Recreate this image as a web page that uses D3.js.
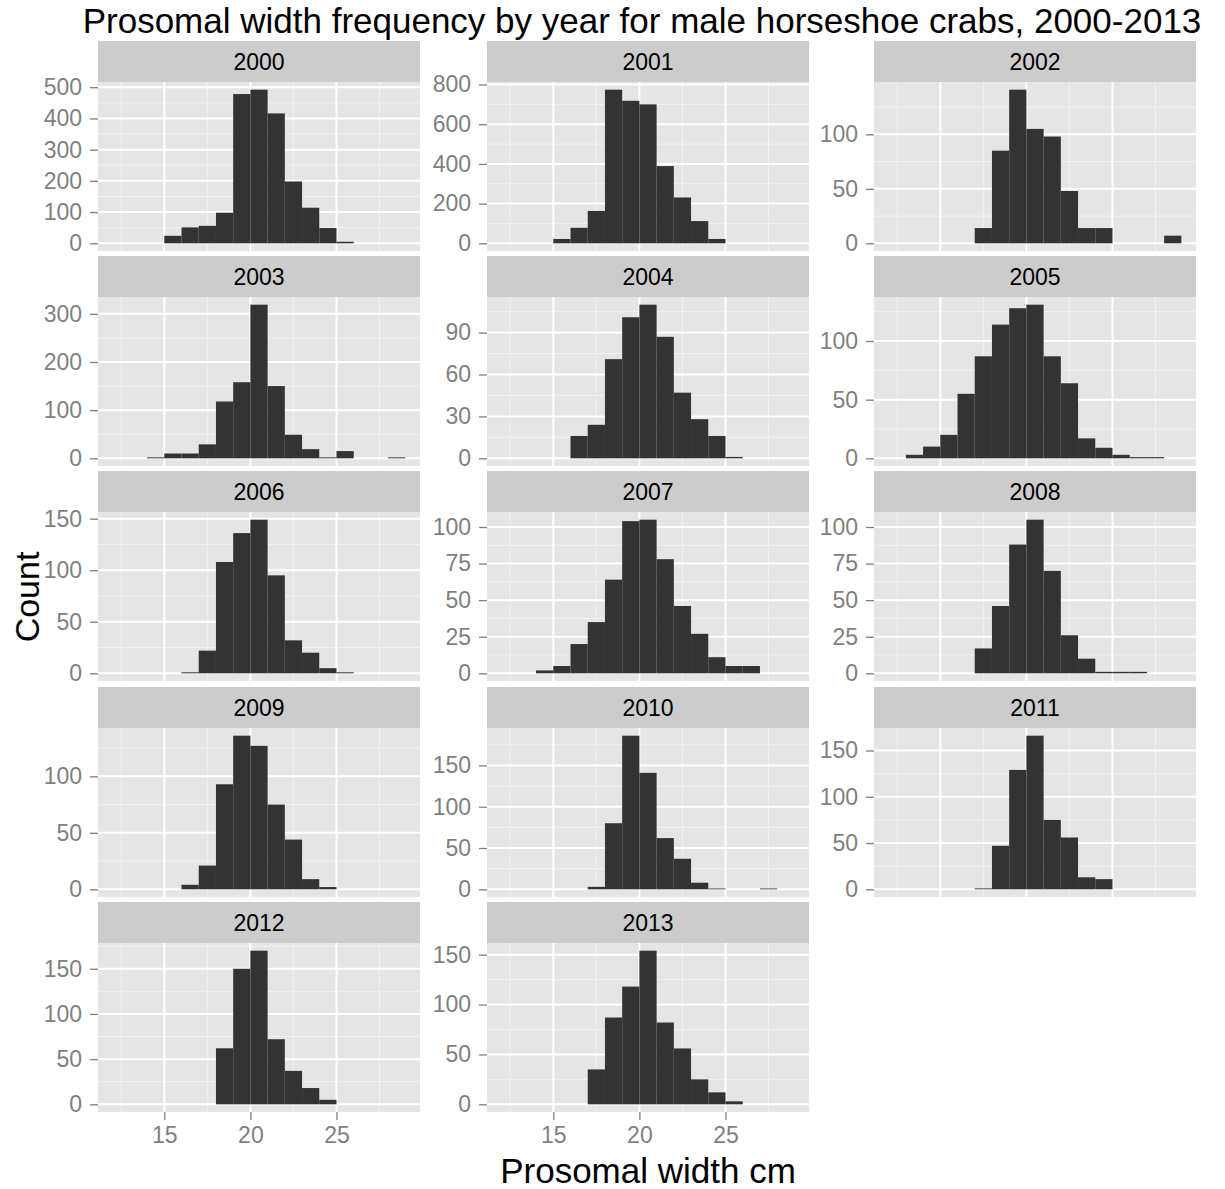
<!DOCTYPE html>
<html>
<head>
<meta charset="utf-8">
<script src="https://cdn.jsdelivr.net/npm/d3@7"></script>
<style>
  body { margin: 0; background: #ffffff; }
  text { font-family: "Liberation Sans", Arial, sans-serif; }
</style>
</head>
<body>
<div id="chart"></div>
<script>
// left edge of each 1 cm bin
var binStarts = [12, 13, 14, 15, 16, 17, 18, 19, 20, 21, 22, 23, 24, 25, 26, 27, 28];

var years = ["2000", "2001", "2002", "2003", "2004", "2005", "2006",
             "2007", "2008", "2009", "2010", "2011", "2012", "2013"];

// counts per bin
var counts2000 = [0, 0, 0, 24, 51, 56, 98, 478, 492, 416, 198, 114, 49, 5, 0, 0, 0];
var counts2001 = [0, 0, 0, 22, 78, 163, 774, 718, 700, 389, 231, 112, 22, 0, 0, 0, 0];
var counts2002 = [0, 0, 0, 0, 0, 14, 85, 141, 105, 98, 48, 14, 14, 0, 0, 0, 7];
var counts2003 = [0, 0, 2, 10, 10, 29, 118, 158, 319, 150, 49, 19, 2, 15, 0, 0, 2];
var counts2004 = [0, 0, 0, 0, 16, 24, 71, 101, 110, 87, 47, 28, 16, 1, 0, 0, 0];
var counts2005 = [0, 3, 10, 20, 55, 87, 114, 128, 131, 87, 64, 17, 9, 3, 1, 1, 0];
var counts2006 = [0, 0, 0, 0, 1, 22, 108, 136, 149, 95, 32, 20, 5, 1, 0, 0, 0];
var counts2007 = [0, 0, 2, 5, 20, 35, 64, 104, 105, 78, 46, 27, 11, 5, 5, 0, 0];
var counts2008 = [0, 0, 0, 0, 0, 17, 46, 88, 105, 70, 26, 10, 1, 1, 1, 0, 0];
var counts2009 = [0, 0, 0, 0, 4, 21, 93, 136, 127, 75, 44, 9, 2, 0, 0, 0, 0];
var counts2010 = [0, 0, 0, 0, 0, 3, 80, 186, 141, 62, 37, 8, 1, 0, 0, 1, 0];
var counts2011 = [0, 0, 0, 0, 0, 1, 47, 129, 166, 75, 56, 13, 11, 0, 0, 0, 0];
var counts2012 = [0, 0, 0, 0, 0, 0, 62, 150, 170, 72, 37, 18, 5, 0, 0, 0, 0];
var counts2013 = [0, 0, 0, 0, 0, 35, 87, 118, 154, 82, 56, 25, 12, 3, 0, 0, 0];

var allCounts = [counts2000, counts2001, counts2002, counts2003, counts2004,
                 counts2005, counts2006, counts2007, counts2008, counts2009,
                 counts2010, counts2011, counts2012, counts2013];

// y tick labels per panel (free scales)
var yTicks = [
  [0, 100, 200, 300, 400, 500],
  [0, 200, 400, 600, 800],
  [0, 50, 100],
  [0, 100, 200, 300],
  [0, 30, 60, 90],
  [0, 50, 100],
  [0, 50, 100, 150],
  [0, 25, 50, 75, 100],
  [0, 25, 50, 75, 100],
  [0, 50, 100],
  [0, 50, 100, 150],
  [0, 50, 100, 150],
  [0, 50, 100, 150],
  [0, 50, 100, 150]
];

var xTicks = [15, 20, 25];
var xMinor = [12.5, 17.5, 22.5, 27.5];

var W = 1225, H = 1189;
var colLeft = [98, 487, 874];
var rowTop = [41, 256, 471, 687, 902];
var panelW = 322, stripH = 41, panelH = 169;

var svg = d3.select("#chart").append("svg")
    .attr("width", W)
    .attr("height", H);

// shared x scale, data range 12..29 expanded 5%
var xLo = 12, xHi = 29, xPad = (xHi - xLo) * 0.05;

years.forEach(function(year, i)
{
    var col = i % 3, row = Math.floor(i / 3);
    var data = binStarts.map(function(b, j) { return {x0: b, x1: b + 1, n: allCounts[i][j]}; });
    var ymax = d3.max(data, function(d) { return d.n; });

    var x = d3.scaleLinear()
        .domain([xLo - xPad, xHi + xPad])
        .range([0, panelW]);
    var y = d3.scaleLinear()
        .domain([-ymax * 0.05, ymax * 1.05])
        .range([panelH, 0]);

    var g = svg.append("g")
        .attr("transform", "translate(" + colLeft[col] + "," + rowTop[row] + ")");

    // strip
    g.append("rect")
        .attr("width", panelW)
        .attr("height", stripH)
        .attr("fill", "#cccccc");
    g.append("text")
        .attr("x", panelW / 2)
        .attr("y", stripH / 2 + 8)
        .attr("text-anchor", "middle")
        .style("font-size", "23px")
        .attr("fill", "#000000")
        .text(year);

    var p = g.append("g")
        .attr("transform", "translate(0," + stripH + ")");

    p.append("rect")
        .attr("width", panelW)
        .attr("height", panelH)
        .attr("fill", "#e5e5e5");

    // minor grid
    var yt = yTicks[i];
    var step = yt[1] - yt[0];
    var yMinor = [];
    for (var v = -step / 2; v < ymax * 1.05; v += step)
    {
        if (y(v) >= 0 && y(v) <= panelH) yMinor.push(v);
    }
    p.selectAll(".yminor")
        .data(yMinor)
        .enter().append("line")
        .attr("x1", 0).attr("x2", panelW)
        .attr("y1", function(d) { return y(d); })
        .attr("y2", function(d) { return y(d); })
        .attr("stroke", "#f2f2f2")
        .attr("stroke-width", 1);
    p.selectAll(".xminor")
        .data(xMinor)
        .enter().append("line")
        .attr("y1", 0).attr("y2", panelH)
        .attr("x1", function(d) { return x(d); })
        .attr("x2", function(d) { return x(d); })
        .attr("stroke", "#f2f2f2")
        .attr("stroke-width", 1);

    // major grid
    p.selectAll(".ymajor")
        .data(yt)
        .enter().append("line")
        .attr("x1", 0).attr("x2", panelW)
        .attr("y1", function(d) { return y(d); })
        .attr("y2", function(d) { return y(d); })
        .attr("stroke", "#ffffff")
        .attr("stroke-width", 2);
    p.selectAll(".xmajor")
        .data(xTicks)
        .enter().append("line")
        .attr("y1", 0).attr("y2", panelH)
        .attr("x1", function(d) { return x(d); })
        .attr("x2", function(d) { return x(d); })
        .attr("stroke", "#ffffff")
        .attr("stroke-width", 2);

    // bars
    p.selectAll(".bar")
        .data(data.filter(function(d) { return d.n > 0; }))
        .enter().append("rect")
        .attr("class", "bar")
        .attr("x", function(d) { return x(d.x0); })
        .attr("width", function(d) { return x(d.x1) - x(d.x0); })
        .attr("y", function(d) { return y(d.n); })
        .attr("height", function(d) { return y(0) - y(d.n); })
        .attr("fill", "#333333");

    // y axis
    var ya = p.append("g")
        .call(d3.axisLeft(y).tickValues(yt).tickSize(8).tickPadding(8));
    ya.select(".domain").remove();
    ya.selectAll("line").attr("stroke", "#7f7f7f").attr("stroke-width", 1.3);
    ya.selectAll("text")
        .attr("fill", "#7f7f7f")
        .style("font-size", "23px")
        .style("font-family", "Liberation Sans, Arial, sans-serif");

    // x axis only on the last row
    if (row === 4)
    {
        var xa = p.append("g")
            .attr("transform", "translate(0," + panelH + ")")
            .call(d3.axisBottom(x).tickValues(xTicks).tickSize(8).tickPadding(7));
        xa.select(".domain").remove();
        xa.selectAll("line").attr("stroke", "#7f7f7f").attr("stroke-width", 1.3);
        xa.selectAll("text")
            .attr("fill", "#7f7f7f")
            .style("font-size", "23px")
            .style("font-family", "Liberation Sans, Arial, sans-serif");
    }
});

// titles
svg.append("text")
    .attr("x", 642)
    .attr("y", 33)
    .attr("text-anchor", "middle")
    .style("font-size", "35px")
    .text("Prosomal width frequency by year for male horseshoe crabs, 2000-2013");

svg.append("text")
    .attr("x", 648)
    .attr("y", 1183)
    .attr("text-anchor", "middle")
    .style("font-size", "35px")
    .text("Prosomal width cm");

svg.append("text")
    .attr("transform", "translate(39,597) rotate(-90)")
    .attr("text-anchor", "middle")
    .style("font-size", "34px")
    .text("Count");
</script>
</body>
</html>
